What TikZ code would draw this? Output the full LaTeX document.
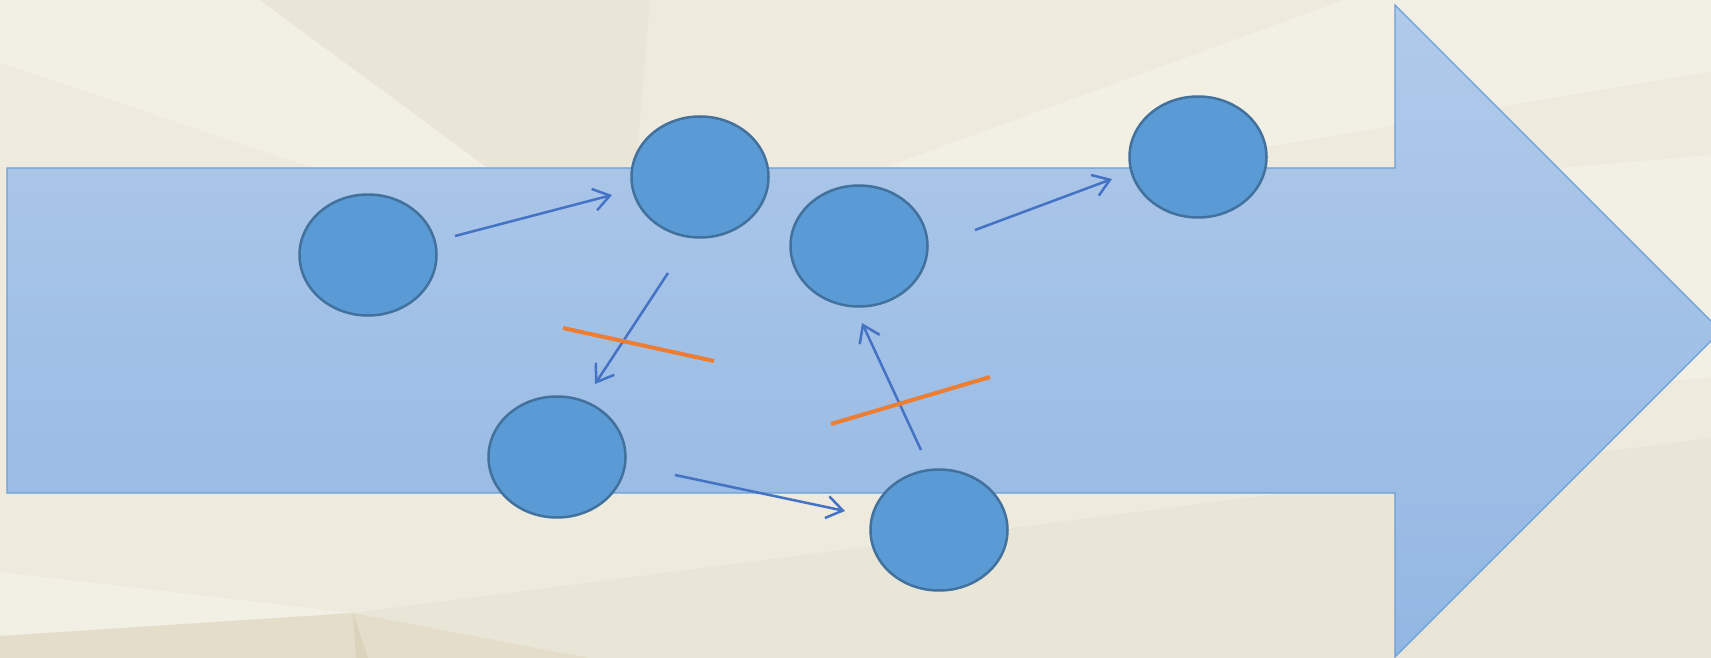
\documentclass[tikz,border=0pt]{standalone}
\usetikzlibrary{shapes.geometric,arrows.meta}
\definecolor{bgbase}{HTML}{EEEADD}
\definecolor{bglight}{HTML}{F2F0E4}
\definecolor{bgpink}{HTML}{EFEADF}
\definecolor{bgdark}{HTML}{E9E6D7}
\definecolor{bgdeep}{HTML}{E3DDCA}
\definecolor{bgsliver}{HTML}{DCD3BD}
\definecolor{arrowtop}{HTML}{B0CAEA}
\definecolor{arrowbot}{HTML}{93B7E3}
\definecolor{arrowline}{HTML}{6A9FD8}
\definecolor{ellfill}{HTML}{5B9BD5}
\definecolor{elldraw}{HTML}{41719C}
\definecolor{linkblue}{HTML}{4472C4}
\definecolor{barorange}{HTML}{ED7D31}
\tikzset{
  stage/.style={ellipse, fill=ellfill, draw=elldraw, line width=2.5pt,
    minimum width=137pt, minimum height=121pt, inner sep=0pt},
  link/.style={draw=linkblue, line width=2.5pt,
    -{Straight Barb[length=16pt,width=22pt]}},
  block/.style={draw=barorange, line width=4pt},
  bigarrow/.style={draw=arrowline, line width=1.2pt, top color=arrowtop, bottom color=arrowbot}
}
\begin{document}
\begin{tikzpicture}[x=1pt,y=-1pt]
\useasboundingbox (0,0) rectangle (1711,658);
\begin{scope}
\clip (0,0) rectangle (1711,658);
% background facets
\fill[bgbase] (0,0) rectangle (1711,658);
\fill[bglight] (0,0) -- (260,0) -- (488,168) -- (313,168) -- (0,63) -- cycle;
\fill[bgpink] (0,63) -- (313,168) -- (0,168) -- cycle;
\fill[bgdark] (260,0) -- (650,0) -- (636,168) -- (488,168) -- cycle;
\fill[bglight] (883,168) -- (1344,0) -- (1711,0) -- (1711,71) -- (1143,168) -- cycle;
\fill[bglight] (1395,182) -- (1711,155) -- (1711,378) -- (1395,400) -- cycle;
\fill[bgdark] (353,613) -- (1711,438) -- (1711,658) -- (589,658) -- cycle;
\fill[bglight] (0,572) -- (353,613) -- (0,636) -- cycle;
\fill[bgdeep] (0,636) -- (353,613) -- (589,658) -- (0,658) -- cycle;
\fill[bgsliver] (353,613) -- (368,658) -- (356,658) -- cycle;
% big arrow
\path[bigarrow] (7,168) -- (1395,168) -- (1395,5) -- (1721,331) -- (1395,657) -- (1395,493) -- (7,493) -- cycle;
\end{scope}
% stages
\node[stage] (e1) at (368,255) {};
\node[stage] (e2) at (700,177) {};
\node[stage] (e3) at (859,246) {};
\node[stage] (e4) at (1198,157) {};
\node[stage] (e5) at (557,457) {};
\node[stage] (e6) at (939,530) {};
% connector end points
\coordinate (a1s) at (455,236); \coordinate (a1e) at (612,195);
\coordinate (a2s) at (668,273); \coordinate (a2e) at (595,384);
\coordinate (a3s) at (675,475); \coordinate (a3e) at (845,511);
\coordinate (a4s) at (921,450); \coordinate (a4e) at (862,323);
\coordinate (a5s) at (975,230); \coordinate (a5e) at (1112,179);
\draw[link] (a1s) -- (a1e);
\draw[link] (a2s) -- (a2e);
\draw[link] (a3s) -- (a3e);
\draw[link] (a4s) -- (a4e);
\draw[link] (a5s) -- (a5e);
% blocking bars
\coordinate (b1s) at (563,328); \coordinate (b1e) at (714,361);
\coordinate (b2s) at (831,424); \coordinate (b2e) at (990,377);
\draw[block] (b1s) -- (b1e);
\draw[block] (b2s) -- (b2e);
\end{tikzpicture}
\end{document}
